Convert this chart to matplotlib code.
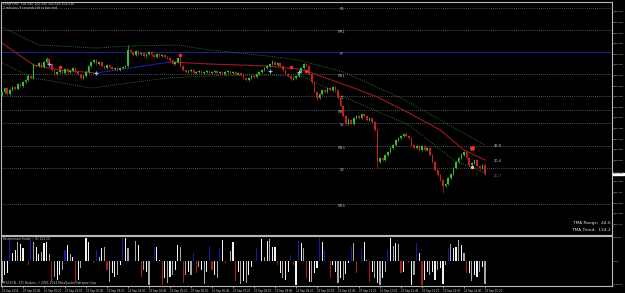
import numpy as np
import matplotlib
matplotlib.use('Agg')
import matplotlib.pyplot as plt
from matplotlib.transforms import blended_transform_factory

# EURJPY M5 candles, 22 Sep, 00:00 .. 15:20 (185 bars)
first_open = 102.925
closes = [102.940, 102.960, 102.930, 102.950, 102.965, 102.955, 102.980, 102.970, 102.990,
          103.000, 103.020, 103.010, 103.075,
          103.070, 103.085, 103.065, 103.090, 103.105,
          103.080, 103.050, 103.030, 103.040,
          103.050, 103.035, 103.055, 103.040, 103.045, 103.060, 103.040, 103.030,
          103.010, 103.020, 103.040, 103.070, 103.090, 103.100,
          103.080, 103.090, 103.070, 103.060, 103.075, 103.065, 103.055, 103.060, 103.050, 103.060, 103.065,
          103.070, 103.150,
          103.140, 103.125, 103.145, 103.130, 103.135, 103.120, 103.130, 103.140, 103.125, 103.115,
          103.130, 103.120, 103.125, 103.115, 103.110,
          103.100, 103.080, 103.090, 103.110, 103.070,
          103.050, 103.040, 103.045, 103.050, 103.035, 103.040, 103.045, 103.035, 103.040, 103.045, 103.035,
          103.040, 103.045, 103.035, 103.040, 103.030, 103.040, 103.045, 103.035, 103.040, 103.030, 103.035, 103.025,
          103.010, 103.000, 103.010, 103.020, 103.015,
          103.030, 103.040, 103.050, 103.060, 103.070,
          103.080, 103.090, 103.075, 103.085,
          103.070, 103.050, 103.030, 103.020, 103.005, 103.010, 103.020,
          103.040, 103.060, 103.080, 103.070,
          103.030, 102.990, 102.940, 102.910,
          102.930, 102.950, 102.940, 102.960, 102.950, 102.965, 102.950,
          102.910, 102.870, 102.820, 102.780,
          102.800, 102.780, 102.810,
          102.820, 102.810, 102.830, 102.820, 102.800, 102.810, 102.790,
          102.750, 102.590,
          102.610, 102.600, 102.625, 102.640,
          102.660, 102.675, 102.700, 102.710, 102.720, 102.730, 102.720, 102.710,
          102.675, 102.660, 102.670, 102.650,
          102.670, 102.650, 102.660, 102.625,
          102.590, 102.550, 102.525,
          102.500, 102.470, 102.480,
          102.510, 102.530, 102.560,
          102.590, 102.610, 102.625, 102.640,
          102.610, 102.575, 102.585, 102.600,
          102.570, 102.560, 102.575, 102.530]

# wick lengths above / below the body, in points (0.001)
up_wk = [5, 3, 5, 8, 3, 5, 5, 3, 5, 5, 8, 3, 10, 5, 3, 5, 3, 10, 3, 5,
         3, 5, 5, 3, 5, 3, 8, 5, 3, 5, 3, 5, 8, 5, 3, 5, 5, 3, 5, 3,
         5, 3, 5, 5, 3, 5, 3, 5, 25, 5, 3, 5, 3, 5, 5, 3, 5, 3, 8, 5,
         3, 5, 5, 3, 5, 3, 5, 3, 25, 5, 3, 5, 3, 5, 3, 5, 5, 3, 5, 3,
         5, 3, 5, 3, 5, 3, 5, 5, 3, 5, 3, 5, 5, 3, 5, 3, 5, 3, 5, 3,
         5, 3, 5, 8, 5, 3, 5, 3, 5, 3, 5, 3, 5, 8, 5, 3, 5, 3, 5, 3,
         5, 5, 3, 5, 3, 5, 3, 5, 3, 5, 3, 5, 8, 5, 3, 5, 3, 5, 5, 3,
         5, 3, 5, 3, 5, 3, 5, 5, 3, 5, 3, 5, 5, 3, 5, 3, 5, 3, 5, 5,
         3, 5, 3, 5, 3, 5, 3, 5, 3, 5, 3, 5, 3, 5, 5, 8, 3, 5, 3, 5,
         3, 5, 3, 5, 3]
dn_wk = [3, 5, 5, 3, 5, 3, 5, 5, 3, 5, 3, 5, 3, 5, 5, 3, 5, 3, 5, 3,
         5, 3, 5, 5, 3, 5, 3, 5, 5, 3, 8, 5, 3, 5, 3, 5, 3, 5, 3, 5,
         3, 5, 5, 3, 5, 3, 5, 5, 3, 5, 3, 5, 5, 3, 5, 3, 5, 3, 5, 3,
         5, 3, 5, 3, 5, 5, 3, 5, 5, 3, 5, 3, 5, 5, 3, 5, 3, 5, 3, 5,
         3, 5, 3, 5, 5, 3, 5, 3, 5, 3, 5, 3, 5, 5, 3, 5, 3, 5, 3, 5,
         5, 3, 5, 3, 5, 3, 5, 3, 5, 3, 5, 3, 5, 3, 5, 3, 5, 3, 8, 5,
         10, 3, 5, 3, 5, 3, 5, 3, 5, 3, 5, 8, 5, 3, 5, 3, 5, 3, 5, 3,
         5, 3, 5, 30, 5, 3, 5, 3, 5, 3, 5, 3, 5, 3, 5, 3, 5, 3, 5, 3,
         5, 3, 5, 3, 5, 5, 8, 5, 35, 5, 5, 3, 5, 3, 5, 3, 5, 3, 5, 3,
         5, 3, 5, 3, 5]

# TMA centre line (red / blue while rising) and bands
mid_red1_x = [0, 12, 22, 36]
mid_red1_y = [103.185, 103.075, 103.050, 103.035]
mid_blue_x = [36, 49, 64]
mid_blue_y = [103.035, 103.060, 103.090]
mid_red2_x = [64, 79, 101, 113, 117, 133, 143, 155, 167, 176, 184]
mid_red2_y = [103.090, 103.080, 103.070, 103.055, 103.040, 102.965, 102.915, 102.835, 102.750, 102.650, 102.600]
upper_x = [0, 14, 36, 48, 67, 79, 101, 113, 130, 152, 167, 184]
upper_y = [103.265, 103.175, 103.160, 103.170, 103.175, 103.150, 103.120, 103.100, 103.040, 102.910, 102.800, 102.675]
lower_x = [0, 12, 34, 63, 79, 101, 115, 133, 155, 172, 184]
lower_y = [103.085, 103.010, 102.960, 103.010, 103.020, 103.025, 103.015, 102.900, 102.775, 102.600, 102.535]

pivot_names = ['R1', 'MR1', 'PP', 'MS1', 'S1', 'MS2', 'S2', 'MS3', 'S3', 'MS4']
pivot_prices = [103.362, 103.250, 103.140, 103.030, 102.920, 102.850, 102.785, 102.670, 102.560, 102.380]

blue_mark_x = [18, 36, 102, 113]
blue_mark_y = [103.080, 103.035, 103.045, 103.040]
red_mark_x = [22, 68, 110, 116]
red_mark_y = [103.065, 103.125, 103.065, 103.045]

# Retracement finder histogram, one value per bar (0 = nothing)
hist_val = [-137, -86, -75, 128, 47, 67, 118, 102, 77, 0,
            -24, 139, 118, 88, 41, 53, 108, 118, 41, -126,
            -96, -116, -86, -55, 67, 98, 41, 24, -137, -116,
            -45, 0, 139, 118, 0, -14, 67, 26, 77, 88,
            -55, -126, -75, -96, -86, -24, 143, 139, 77, 0,
            0, 122, 98, -96, -55, -65, -147, 0, 77, 88,
            6, -147, -106, -137, -96, -86, -55, 98, 88, -137,
            -86, -65, -86, 47, -75, -35, -55, -143, -65, 94,
            -55, -86, -106, 77, 128, -14, 0, 61, 118, -122,
            -65, -143, -122, -137, -86, -35, 0, 82, 0, 133,
            26, 122, 133, 88, 88, -24, -75, -102, -116, -65,
            37, -24, -147, 122, 108, 77, -102, -126, -126, -75,
            -45, 143, 118, 67, 0, -106, -24, -65, -137, -106,
            -116, -82, -14, 88, 108, -75, 0, 77, 118, 6,
            -126, -65, -106, -137, -147, -106, -65, 67, 143, 92,
            112, 102, -75, -65, 6, -14, -147, -86, 112, 47,
            -147, -116, -65, -86, -65, -116, -55, -45, -143, -24,
            77, 102, 82, 88, 128, 98, 47, -75, -75, -122,
            -86, -96, -65, -35, -143]
hist_kind = ('gwwbwwgww.' 'rbgwwgwwgr' 'gwwgbwgwrw' 'g.ww.rbgwg' 'rgwwgwbwg.'
             '.gwrgwg.bw' 'wrwgwgwwgr' 'gwgbrgwgwb' 'rwgbwr.gwr' 'wgwgww.b.w'
             'gwgwwrwgww' 'brwbwgrwgw' 'wbwb.rwwgw' 'gwwbgr.bwg' 'rwgwgwgbwg'
             'wgrwbrwgbw' 'rwwgwwgwwg' 'bgwwgwgrwg' 'wwgwg')

price_ticks = [103.342, 103.289, 103.235, 103.182, 103.129, 103.076, 103.022, 102.969, 102.916,
               102.863, 102.810, 102.756, 102.703, 102.650, 102.597, 102.490, 102.437, 102.384,
               102.330, 102.277]
time_labels = ['22 Sep 2014', '22 Sep 00:40', '22 Sep 01:20', '22 Sep 02:00', '22 Sep 02:40',
               '22 Sep 03:20', '22 Sep 04:00', '22 Sep 04:40', '22 Sep 05:20', '22 Sep 06:00',
               '22 Sep 06:40', '22 Sep 07:20', '22 Sep 08:00', '22 Sep 08:40', '22 Sep 09:20',
               '22 Sep 10:00', '22 Sep 10:40', '22 Sep 11:20', '22 Sep 12:00', '22 Sep 12:40',
               '22 Sep 13:20', '22 Sep 14:00', '22 Sep 14:40', '22 Sep 15:20']

W, H = 625, 293
fig = plt.figure(figsize=(W / 100, H / 100), dpi=100, facecolor='black')
ax = fig.add_axes([1 / W, 58 / H, 611 / W, 233 / H], facecolor='black')
sub = fig.add_axes([1 / W, 7 / H, 611 / W, 50 / H], facecolor='black')

frame = '#b8b8b8'
for a in (ax, sub):
    for s in a.spines.values():
        s.set_color(frame)
        s.set_linewidth(0.8)
    a.set_xlim(-0.38, 232.4)

# pivots
for name, p in zip(pivot_names, pivot_prices):
    if name == 'PP':
        ax.axhline(p, color='#1c1c8c', lw=0.8, zorder=1)
    else:
        ax.axhline(p, color='#9a9a9a', lw=0.5, ls=(0, (1, 2)), zorder=1)
    ax.text(129.5, p - 0.008, name, color='#b0b0b0', fontsize=2.6, ha='center', va='center')

# TMA
ax.plot(upper_x, upper_y, color='#2f8f2f', lw=0.6, ls=(0, (1, 1.5)))
ax.plot(lower_x, lower_y, color='#2f8f2f', lw=0.6, ls=(0, (1, 1.5)))
ax.plot(mid_red1_x, mid_red1_y, color='#9a1c1c', lw=0.8)
ax.plot(mid_blue_x, mid_blue_y, color='#1c1ca0', lw=0.8)
ax.plot(mid_red2_x, mid_red2_y, color='#9a1c1c', lw=0.8)

# candles
c = np.array(closes)
o = np.concatenate([[first_open], c[:-1]])
hi = np.maximum(o, c) + np.array(up_wk) / 1000
lo = np.minimum(o, c) - np.array(dn_wk) / 1000
idx = np.arange(len(c))
col = np.where(c > o, '#2ec22e', '#c42020')
ax.vlines(idx, lo, hi, colors=col, lw=0.5, zorder=3)
body = np.maximum(np.abs(c - o), 0.002)
ax.bar(idx, body, bottom=np.minimum(o, c), width=0.6, color=col, zorder=4)

ax.plot(blue_mark_x, blue_mark_y, '+', color='#8fb8ff', ms=3, mew=0.8, zorder=5)
ax.plot(red_mark_x, red_mark_y, 'o', color='#ff2a2a', ms=1.5, zorder=5)
ax.plot([179], [102.660], '*', color='#ff2a2a', ms=3.5, zorder=5)
ax.plot([179], [102.565], 'o', color='#ffb0b0', ms=1.5, zorder=5)

ax.text(187.5, 102.670, '42.8', color='#c8c8c8', fontsize=2.6, va='center')
ax.text(187.5, 102.595, '20.4', color='#c8c8c8', fontsize=2.6, va='center')
ax.text(187.5, 102.520, '20.7', color='#c040c0', fontsize=2.6, va='center')

ax.set_ylim(102.225, 103.390)
ax.set_xticks([])
ax.yaxis.tick_right()
ax.set_yticks(price_ticks)
ax.set_yticklabels(['%.3f' % v for v in price_ticks])
ax.tick_params(axis='y', colors=frame, labelcolor='#d8d8d8', labelsize=1.75, length=1.0, width=0.5, pad=0.5)

tr = blended_transform_factory(ax.transAxes, ax.transData)
ax.text(1.003, closes[-1], '%.3f' % closes[-1], transform=tr, fontsize=1.75, color='black',
        va='center', ha='left', clip_on=False, zorder=10,
        bbox=dict(boxstyle='square,pad=0.15', fc='white', ec='white'))

# sub window
hc = {'w': '#f2f2f2', 'g': '#a6a6a6', 'b': '#1a1aa8', 'r': '#b01a1a', '.': 'black'}
sub.bar(np.arange(len(hist_val)), hist_val, width=0.45, color=[hc[k] for k in hist_kind])
sub.set_ylim(-153, 153)
sub.yaxis.tick_right()
sub.set_yticks([146.87, 0, -146.87])
sub.set_yticklabels(['146.87', '0.00', '-146.87'])
sub.tick_params(axis='y', colors=frame, labelcolor='#d8d8d8', labelsize=1.75, length=1.0, width=0.5, pad=0.5)
sub.set_xticks(np.arange(0, 185, 8))
sub.set_xticklabels(time_labels)
sub.tick_params(axis='x', colors=frame, labelcolor='#d8d8d8', labelsize=1.9, length=1.2, width=0.5, pad=0.8)
for lab in sub.get_xticklabels():
    lab.set_ha('left')

fig.text(3 / W, 1 - 4 / H, 'EURJPY,M5  102.540 102.545 102.525 102.530', color='#d8d8d8', fontsize=2.2, va='center')
fig.text(3 / W, 1 - 8 / H, '2 minutes 9 seconds left to bar end', color='#d8d8d8', fontsize=2.2, va='center')
fig.text(611 / W, 1 - 223 / H, 'TMA Range:  44.6', color='#e0e0e0', fontsize=3.1, ha='right', va='center')
fig.text(611 / W, 1 - 230 / H, 'TMA Trend:  124.2', color='#e0e0e0', fontsize=3.1, ha='right', va='center')
fig.text(3 / W, 1 - 239 / H, 'Retracement finder ~ (5) 123.20', color='#d0d0d0', fontsize=2.1, va='center')
fig.text(3 / W, 1 - 283 / H, 'MT4 ECN - XTC Brokers, \u00a9 2001-2014 MetaQuotes Software Corp.',
         color='#d0d0d0', fontsize=2.1, va='center')

fig.savefig('out.png', dpi=100, facecolor='black')
